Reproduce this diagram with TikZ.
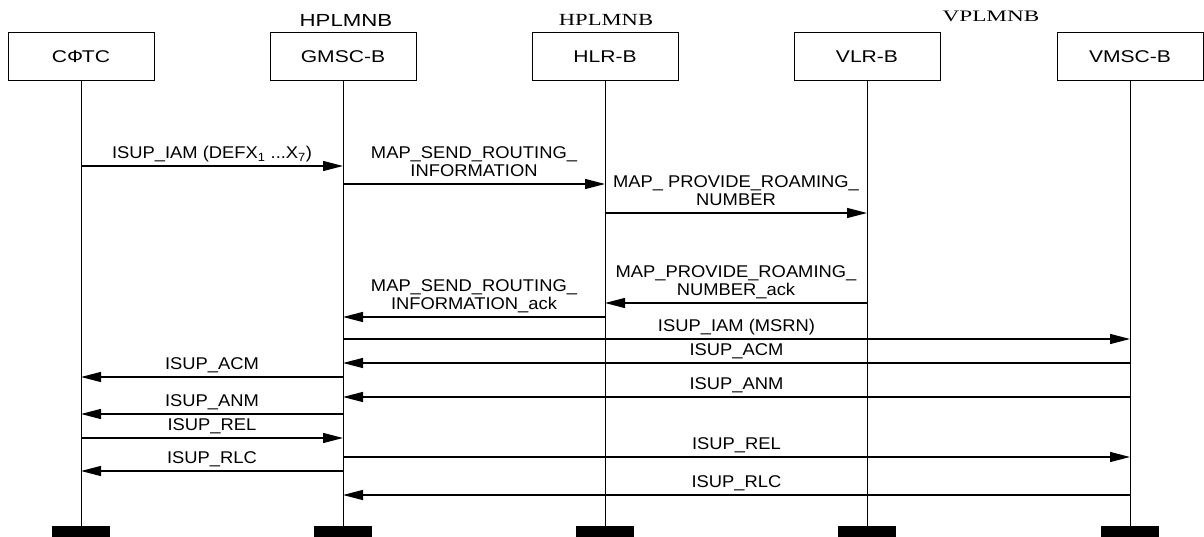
\documentclass[tikz,border=0pt]{standalone}
\usepackage{fontspec}
\setmainfont{Liberation Sans}
\newfontfamily\lblfont[FakeStretch=1.08]{Liberation Sans}
\newfontfamily\boxfont[FakeStretch=1.24]{Liberation Sans}
\newfontfamily\serfont[FakeStretch=1.33]{Liberation Serif}
\newfontfamily\serfontw[FakeStretch=1.45]{Liberation Serif}
\usetikzlibrary{arrows.meta}
\begin{document}
\begin{tikzpicture}[x=1pt,y=-1pt,
  ent/.style={draw, line width=1pt, minimum width=146pt, minimum height=48pt, inner sep=0pt,
    font=\boxfont\fontsize{17}{18}\selectfont},
  life/.style={line width=1pt},
  msg/.style={line width=1.3pt, -{Triangle[length=20pt,width=10pt]}},
  lbl/.style={midway, anchor=south, inner sep=0pt, yshift=6.5pt, text depth=0pt, align=center,
    font=\lblfont\fontsize{17}{18}\selectfont},
  endbar/.style={fill=black, minimum width=58pt, minimum height=11pt, inner sep=0pt},
  hdr/.style={anchor=base, inner sep=0pt}]
\useasboundingbox (0,0) rectangle (1204,537);

% entities
\node[ent] (A) at (81,57) {СФТС};
\node[ent] (B) at (343,57) {GMSC-B};
\node[ent] (C) at (605,57) {HLR-B};
\node[ent] (D) at (867,57) {VLR-B};
\node[ent] (E) at (1130,57) {VMSC-B};

% network labels
\node[hdr, font=\normalfont\fontsize{17.5}{18}\selectfont] (h1) at (346,27) {\scalebox{1.27}[1]{HPLMNB}};
\node[hdr, font=\serfont\fontsize{17}{18}\selectfont] (h2) at (606,26) {HPLMNB};
\node[hdr, font=\serfontw\fontsize{16}{18}\selectfont] (h3) at (991,22) {VPLMNB};

% end bars
\node[endbar, anchor=north] (Ae) at (81,526) {};
\node[endbar, anchor=north] (Be) at (343,526) {};
\node[endbar, anchor=north] (Ce) at (605,526) {};
\node[endbar, anchor=north] (De) at (867,526) {};
\node[endbar, anchor=north] (Ee) at (1130,526) {};

% lifelines
\foreach \n in {A,B,C,D,E}
  \draw[life] (\n.south) -- (\n e.north);

% messages
\draw[msg] (A |- 0,166) -- (B |- 0,166) node[lbl] {ISUP\_IAM (DEFX\textsubscript{1} ...X\textsubscript{7})};
\draw[msg] (B |- 0,184) -- (C |- 0,184) node[lbl] {MAP\_SEND\_ROUTING\_\\INFORMATION};
\draw[msg] (C |- 0,213) -- (D |- 0,213) node[lbl] {MAP\_ PROVIDE\_ROAMING\_\\NUMBER};
\draw[msg] (D |- 0,303) -- (C |- 0,303) node[lbl] {MAP\_PROVIDE\_ROAMING\_\\NUMBER\_ack};
\draw[msg] (C |- 0,317) -- (B |- 0,317) node[lbl] {MAP\_SEND\_ROUTING\_\\INFORMATION\_ack};
\draw[msg] (B |- 0,339) -- (E |- 0,339) node[lbl] {ISUP\_IAM (MSRN)};
\draw[msg] (E |- 0,363) -- (B |- 0,363) node[lbl] {ISUP\_ACM};
\draw[msg] (B |- 0,377) -- (A |- 0,377) node[lbl] {ISUP\_ACM};
\draw[msg] (E |- 0,397) -- (B |- 0,397) node[lbl] {ISUP\_ANM};
\draw[msg] (B |- 0,414) -- (A |- 0,414) node[lbl] {ISUP\_ANM};
\draw[msg] (A |- 0,438) -- (B |- 0,438) node[lbl] {ISUP\_REL};
\draw[msg] (B |- 0,457) -- (E |- 0,457) node[lbl] {ISUP\_REL};
\draw[msg] (B |- 0,471) -- (A |- 0,471) node[lbl] {ISUP\_RLC};
\draw[msg] (E |- 0,495) -- (B |- 0,495) node[lbl] {ISUP\_RLC};
\end{tikzpicture}
\end{document}
